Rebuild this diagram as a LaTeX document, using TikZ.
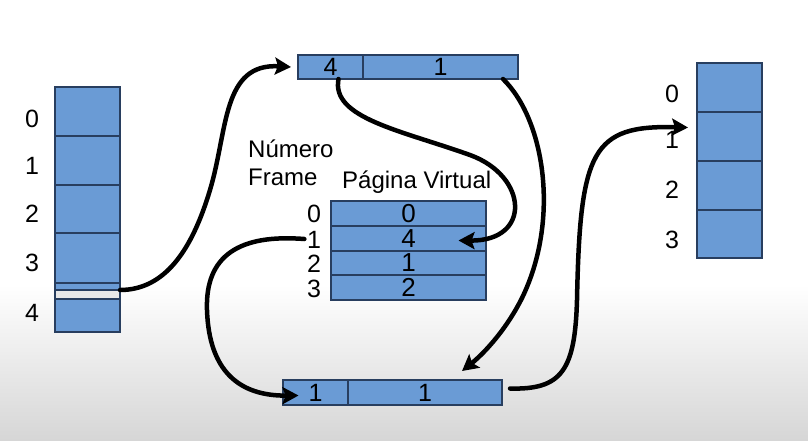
\documentclass[tikz,border=0pt]{standalone}
\usepackage{fontspec}
\setmainfont{Liberation Sans}
\usetikzlibrary{arrows.meta}
\definecolor{cellblue}{RGB}{106,155,213}
\definecolor{celledge}{RGB}{40,62,95}
\definecolor{gapgray}{RGB}{232,232,232}
\definecolor{bggray}{RGB}{214,214,214}
\tikzset{
  cell/.style={draw=celledge, line width=1.1pt, fill=cellblue, inner sep=0pt, outer sep=0pt, font=\fontsize{25}{27}\selectfont},
  bigcell/.style={cell, font=\fontsize{26}{28}\selectfont},
  lab/.style={inner sep=1pt, text height=18pt, text depth=0pt, font=\fontsize{25}{27}\selectfont},
  biglab/.style={inner sep=0.5pt, text height=18pt, text depth=0pt, font=\fontsize{25}{27}\selectfont},
  title/.style={inner sep=0pt, anchor=base west, font=\fontsize{24}{27}\selectfont},
  conn/.style={line width=4.5pt, -{Stealth[length=16pt,width=17pt,inset=3pt]}, line cap=round}
}
\begin{document}
\begin{tikzpicture}[x=1pt,y=-1pt]
\useasboundingbox (0,0) rectangle (808,440);
\fill[white] (0,0) rectangle (808,440);
\shade[top color=white, bottom color=bggray] (0,285) rectangle (808,440);

% left column
\node[cell, minimum width=65, minimum height=49] (L0) at (87.5,111.5) {};
\node[cell, minimum width=65, minimum height=49] (L1) at (87.5,160.5) {};
\node[cell, minimum width=65, minimum height=48] (L2) at (87.5,209) {};
\node[cell, minimum width=65, minimum height=50] (L3) at (87.5,258) {};
\node[cell, minimum width=65, minimum height=7] (L4a) at (87.5,286.5) {};
\node[cell, fill=gapgray, minimum width=65, minimum height=9] (L4g) at (87.5,294.5) {};
\node[cell, minimum width=65, minimum height=33] (L4b) at (87.5,315.5) {};
\node[lab] (lL0) at (32,118) {0};
\node[lab] (lL1) at (32,165) {1};
\node[lab] (lL2) at (32,213) {2};
\node[lab] (lL3) at (32,262) {3};
\node[lab] (lL4) at (32,312) {4};

% top box
\node[cell, minimum width=65, minimum height=24] (T1) at (330.5,67) {4};
\node[cell, minimum width=155, minimum height=24] (T2) at (440.5,67) {1};

% titles
\node[title] (tN) at (248,157) {Número};
\node[title] (tF) at (248,185) {Frame};
\node[title] (tP) at (342,188) {Página Virtual};

% middle table
\node[bigcell, minimum width=155, minimum height=25] (M0) at (408.5,213.5) {0};
\node[bigcell, minimum width=155, minimum height=25] (M1) at (408.5,238.5) {4};
\node[bigcell, minimum width=155, minimum height=24] (M2) at (408.5,263) {1};
\node[bigcell, minimum width=155, minimum height=25] (M3) at (408.5,287.5) {2};
\node[biglab] (F0) at (314,213) {0};
\node[biglab] (F1) at (314,239) {1};
\node[biglab] (F2) at (314,263) {2};
\node[biglab] (F3) at (314,288) {3};

% bottom box
\node[cell, minimum width=65, minimum height=25] (B1) at (315.5,392.5) {1};
\node[cell, minimum width=154, minimum height=25] (B2) at (425,392.5) {1};

% right column
\node[cell, minimum width=65, minimum height=49] (R0) at (729.5,87.5) {};
\node[cell, minimum width=65, minimum height=49] (R1) at (729.5,136.5) {};
\node[cell, minimum width=65, minimum height=49] (R2) at (729.5,185.5) {};
\node[cell, minimum width=65, minimum height=48] (R3) at (729.5,234) {};
\node[lab] (lR0) at (672,93) {0};
\node[lab] (lR1) at (672,139) {1};
\node[lab] (lR2) at (672,189) {2};
\node[lab] (lR3) at (672,239) {3};

% connector end points
\coordinate (a1s) at (L4g.north east);
\coordinate (a1e) at ([xshift=-7]T1.west);
\coordinate (a2s) at ([xshift=8]T1.south);
\coordinate (a2e) at ([xshift=50,yshift=-2]M1.center);
\coordinate (a3s) at ([xshift=-15]T2.south east);
\coordinate (a3e) at ([xshift=37,yshift=9]B2.north);
\coordinate (a4s) at ([xshift=-2]F1.west);
\coordinate (a4e) at ([xshift=-17,yshift=-3]B1.center);
\coordinate (a5s) at ([xshift=8,yshift=4]B2.east);
\coordinate (a5e) at ([xshift=-9,yshift=9]R1.west);

% connectors
\draw[conn] (a1s) .. controls (165,290) and (192,250) .. (210,190) .. controls (228,130) and (222,63) .. (a1e);
\draw[conn] (a2s) .. controls (331,118) and (400,130) .. (470,155) .. controls (528,176) and (532,241) .. (a2e);
\draw[conn] (a3s) .. controls (545,120) and (560,220) .. (522,298) .. controls (505,332) and (482,355) .. (a3e);
\draw[conn] (a4s) .. controls (240,234) and (205,255) .. (207,310) .. controls (209,372) and (240,396) .. (a4e);
\draw[conn] (a5s) .. controls (562,390) and (575,370) .. (577,300) .. controls (580,150) and (592,125) .. (a5e);
\end{tikzpicture}
\end{document}
